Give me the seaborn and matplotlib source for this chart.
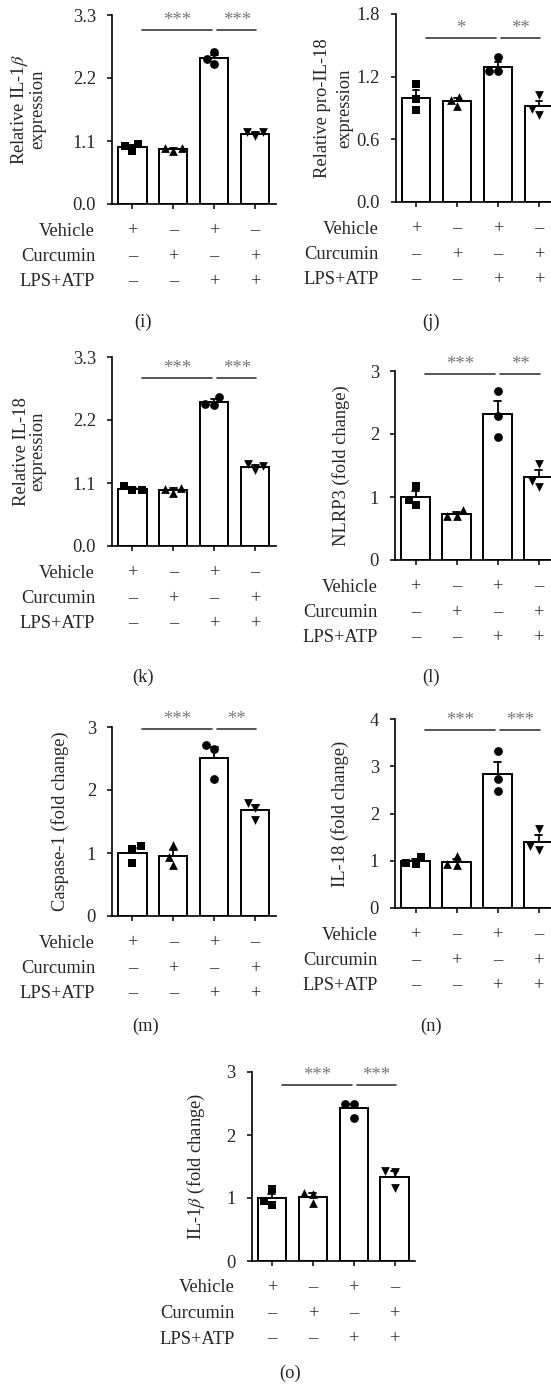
import pandas as pd
import matplotlib
matplotlib.use("Agg")
import matplotlib.pyplot as plt
import seaborn as sns

sns.set_theme(style="ticks")
plt.rcParams["font.family"] = ["Liberation Serif", "DejaVu Serif"]
plt.rcParams["mathtext.fontset"] = "stix"

# =========================
# DATA
# =========================
groups = ["Vehicle", "Curcumin", "LPS+ATP", "LPS+ATP+Curcumin"]
vehicle_row = ["+", "\u2013", "+", "\u2013"]
curcumin_row = ["\u2013", "+", "\u2013", "+"]
lps_row = ["\u2013", "\u2013", "+", "+"]
markers = ["s", "^", "o", "v"]

# three replicates per group
il1b_rel = [[1.05, 0.93, 1.02], [0.98, 0.92, 0.98], [2.44, 2.66, 2.54], [1.26, 1.18, 1.25]]
pro_il18 = [[1.13, 0.99, 0.88], [1.01, 0.92, 0.98], [1.39, 1.25, 1.25], [1.02, 0.835, 0.89]]
il18_rel = [[1.04, 0.98, 0.97], [1.02, 0.93, 1.00], [2.60, 2.47, 2.48], [1.43, 1.33, 1.40]]
nlrp3 = [[1.18, 0.96, 0.87], [0.79, 0.70, 0.70], [2.69, 2.29, 1.96], [1.53, 1.25, 1.16]]
caspase1 = [[1.11, 1.06, 0.84], [1.12, 0.94, 0.815], [2.72, 2.65, 2.17], [1.80, 1.53, 1.72]]
il18_fold = [[1.08, 0.93, 0.96], [1.095, 0.905, 0.93], [3.32, 2.74, 2.47], [1.68, 1.22, 1.31]]
il1b_fold = [[1.14, 0.887, 0.955], [1.083, 0.913, 1.07], [2.50, 2.50, 2.27], [1.434, 1.418, 1.152]]

ylabels = [
    "Relative IL-1$\\beta$\nexpression",
    "Relative pro-IL-18\nexpression",
    "Relative IL-18\nexpression",
    "NLRP3 (fold change)",
    "Caspase-1 (fold change)",
    "IL-18 (fold change)",
    "IL-1$\\beta$ (fold change)",
]
yticks = [
    [0.0, 1.1, 2.2, 3.3],
    [0.0, 0.6, 1.2, 1.8],
    [0.0, 1.1, 2.2, 3.3],
    [0, 1, 2, 3],
    [0, 1, 2, 3],
    [0, 1, 2, 3, 4],
    [0, 1, 2, 3],
]
ytick_labels = [
    ["0.0", "1.1", "2.2", "3.3"],
    ["0.0", "0.6", "1.2", "1.8"],
    ["0.0", "1.1", "2.2", "3.3"],
    ["0", "1", "2", "3"],
    ["0", "1", "2", "3"],
    ["0", "1", "2", "3", "4"],
    ["0", "1", "2", "3"],
]
stars = [("***", "***"), ("*", "**"), ("***", "***"), ("***", "**"),
         ("***", "**"), ("***", "***"), ("***", "***")]
sig_y = [3.04, 1.57, 2.93, 2.95, 2.97, 3.77, 2.80]
panel_names = ["(i)", "(j)", "(k)", "(l)", "(m)", "(n)", "(o)"]
panel_data = [il1b_rel, pro_il18, il18_rel, nlrp3, caspase1, il18_fold, il1b_fold]

# =========================
# LAYOUT (pixels)
# =========================
W, H = 551, 1388
# left, top, width, height of each axes
boxes = [
    (112, 15, 163.5, 189),
    (395.5, 14, 164, 188),
    (112, 357, 163.5, 189),
    (395, 371, 164, 189),
    (112, 727, 163.5, 189),
    (395, 719, 164, 189),
    (251.5, 1072, 163.5, 189),
]
# right edge of the y label (axes fraction) and its line spacing
ylabel_x = [-0.40, -0.255, -0.40, -0.275, -0.265, -0.28, -0.27]
ylabel_ls = [1.0, 1.45, 1.0, 1.2, 1.2, 1.2, 1.2]
label_pos = [(143, 322), (431, 322), (143, 677), (431, 677),
             (146, 1026), (431, 1026), (290, 1373)]

FS = 13.3
fig = plt.figure(figsize=(W / 100, H / 100), dpi=100)

for k in range(7):
    left, top, w, h = boxes[k]
    ax = fig.add_axes([left / W, 1 - (top + h) / H, w / W, h / H])

    rows = []
    for g, vals in zip(groups, panel_data[k]):
        for v in vals:
            rows.append({"group": g, "value": v})
    df = pd.DataFrame(rows)

    sns.barplot(data=df, x="group", y="value", order=groups, errorbar="se",
                color="white", edgecolor="black", linewidth=1.4, width=0.69,
                capsize=0.17, err_kws={"linewidth": 1.3, "color": "black"}, ax=ax)
    for p in ax.patches:
        p.set_facecolor("white")
        p.set_zorder(2.2)

    for g, m in zip(groups, markers):
        sns.swarmplot(data=df[df["group"] == g], x="group", y="value", order=groups,
                      marker=m, color="black", size=6.3, ax=ax)
    for c in ax.collections:
        c.set_zorder(3)

    ax.set_xlim(-0.5, 3.5)
    ax.set_ylim(yticks[k][0], yticks[k][-1])
    ax.set_yticks(yticks[k])
    ax.set_yticklabels(ytick_labels[k], fontsize=FS, family="Liberation Serif")
    ax.set_xticks(range(4))
    ax.set_xticklabels([])
    ax.set_xlabel("")
    ax.set_ylabel(ylabels[k], fontsize=FS, linespacing=ylabel_ls[k],
                  family="Liberation Serif")
    ax.yaxis.set_label_coords(ylabel_x[k], 0.5)
    ax.tick_params(axis="both", direction="out", length=3.6, width=1.1,
                   color="black", pad=8)
    sns.despine(ax=ax)
    for s in ["left", "bottom"]:
        ax.spines[s].set_linewidth(1.2)
        ax.spines[s].set_color("black")

    # significance bars
    y = sig_y[k]
    for (x0, x1), st in zip([(0.24, 1.95), (2.07, 3.03)], stars[k]):
        ax.plot([x0, x1], [y, y], color="#3a3a3a", lw=1.2, clip_on=False)
        ax.annotate(st, xy=((x0 + x1) / 2, y), xytext=(0, 1), textcoords="offset pixels",
                    ha="center", va="bottom", fontsize=13.5, color="#777777",
                    family="Liberation Serif", annotation_clip=False)

    # treatment table
    for r, (name, row) in enumerate(zip(["Vehicle", "Curcumin", "LPS+ATP"],
                                        [vehicle_row, curcumin_row, lps_row])):
        dy = -(27 + 25.5 * r)
        ax.annotate(name, xy=(0, 0), xycoords="axes fraction", xytext=(-17, dy),
                    textcoords="offset pixels", ha="right", va="center",
                    fontsize=FS, family="Liberation Serif")
        for i, sym in enumerate(row):
            ax.annotate(sym, xy=(i, 0), xycoords=("data", "axes fraction"),
                        xytext=(0, dy), textcoords="offset pixels",
                        ha="center", va="center", fontsize=FS, family="Liberation Serif")

    lx, ly = label_pos[k]
    fig.text(lx / W, 1 - ly / H, panel_names[k], ha="center", va="center",
             fontsize=FS, family="Liberation Serif")

fig.savefig("out.png", dpi=100)
